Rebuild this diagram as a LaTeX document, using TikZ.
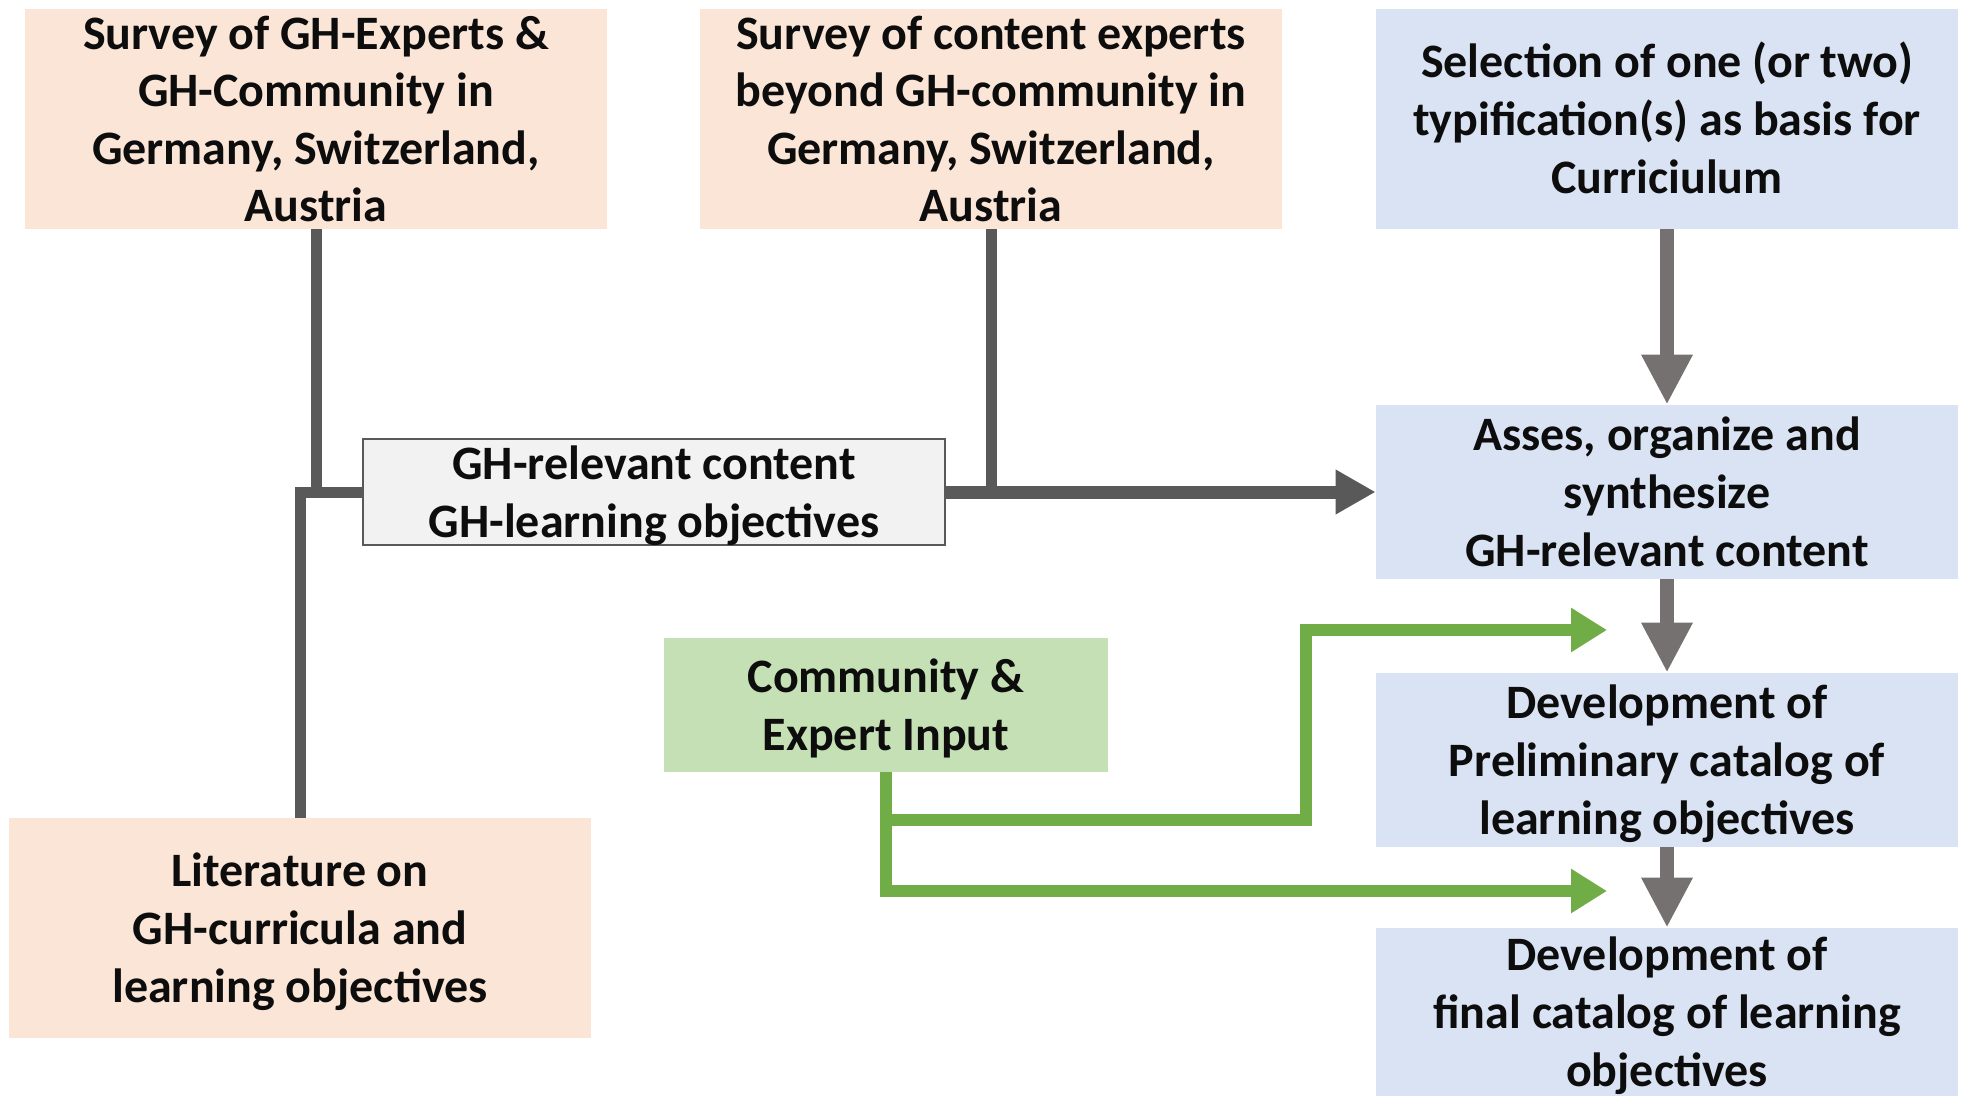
\documentclass[tikz,border=0pt]{standalone}
\usepackage{fontspec}
\setmainfont{Carlito}
\usetikzlibrary{arrows.meta}
\definecolor{peach}{HTML}{FBE5D6}
\definecolor{paleblue}{HTML}{DAE3F3}
\definecolor{palegreen}{HTML}{C5E0B4}
\definecolor{lightgrey}{HTML}{F2F2F2}
\definecolor{darkline}{HTML}{595959}
\definecolor{warmgrey}{HTML}{767171}
\definecolor{linegreen}{HTML}{70AD47}
\newcommand\boxtext[2][-2.5pt]{\raisebox{#1}[\dimexpr\height-4pt\relax][\dimexpr\depth-4pt\relax]{\begin{tabular}{@{}c@{}}#2\end{tabular}}}
\begin{document}
\begin{tikzpicture}[x=0.5pt,y=-0.5pt,
  font=\fontsize{24}{28.8}\selectfont\bfseries,
  box/.style={inner sep=0pt, align=center, text=black!95},
  peachbox/.style={box, fill=peach, minimum width=291pt, minimum height=110pt},
  bluebox/.style={box, fill=paleblue, minimum width=291pt},
  greybox/.style={box, fill=lightgrey, draw=darkline, line width=0.6pt, minimum width=291pt, minimum height=53pt},
  greenbox/.style={box, fill=palegreen, minimum width=222pt, minimum height=67pt},
  joinline/.style={draw=darkline, line width=5.5pt},
  darkarrow/.style={draw=darkline, line width=6.5pt, -{Triangle[length=20pt,width=21pt]}},
  flowarrow/.style={draw=warmgrey, line width=7pt, -{Triangle[length=25pt,width=24pt]}},
  greenarrow/.style={draw=linegreen, line width=6pt, -{Triangle[length=18pt,width=21pt]}}
]
\useasboundingbox (0,0) rectangle (1964,1096);
\clip (0,0) rectangle (1964,1096);

\node[peachbox] (s1) at (316,119) {\boxtext{Survey of GH-Experts \&\\GH-Community in\\Germany, Switzerland,\\Austria}};
\node[peachbox] (s2) at (991,119) {\boxtext{Survey of content experts\\beyond GH-community in\\Germany, Switzerland,\\Austria}};
\node[peachbox] (lit) at (300,928) {\boxtext{Literature on\\GH-curricula and\\learning objectives}};
\node[greybox] (gh) at (654,492) {\boxtext{GH-relevant content\\GH-learning objectives}};
\node[greenbox] (ce) at (886,705) {\boxtext{Community \&\\Expert Input}};

\node[bluebox, minimum height=110pt] (sel) at (1667,119) {\boxtext{Selection of one (or two)\\typification(s) as basis for\\Curriciulum}};
\node[bluebox, minimum height=87pt] (ass) at (1667,492) {\boxtext{Asses, organize and\\synthesize\\GH-relevant content}};
\node[bluebox, minimum height=87pt] (pre) at (1667,760) {\boxtext{Development of\\Preliminary catalog of\\learning objectives}};
\node[bluebox, minimum height=88pt] (fin) at (1667,1016) {\boxtext[-0.5pt]{Development of\\final catalog of learning\\objectives}};

\coordinate (j1) at (s1.south |- gh.west);
\coordinate (j2) at (lit.north |- gh.west);
\coordinate (j3) at (s2.south |- gh.east);
\draw[joinline] (s1.south) -- (j1);
\draw[joinline] (lit.north) -- (j2) -- (gh.west);
\draw[joinline] (s2.south) -- (j3);
\draw[darkarrow] (gh.east) -- (ass.west);

\draw[flowarrow] (sel.south) -- (ass.north);
\draw[flowarrow] (ass.south) -- (pre.north);
\draw[flowarrow] (pre.south) -- (fin.north);

\coordinate (g1) at (886,820);
\coordinate (g2) at (1306,820);
\coordinate (g3) at (1306,630);
\coordinate (g4) at (1607,630);
\coordinate (g5) at (886,891);
\coordinate (g6) at (1607,891);
\draw[greenarrow] (ce.south) -- (g1) -- (g2) -- (g3) -- (g4);
\draw[greenarrow] (ce.south) -- (g5) -- (g6);
\end{tikzpicture}
\end{document}
